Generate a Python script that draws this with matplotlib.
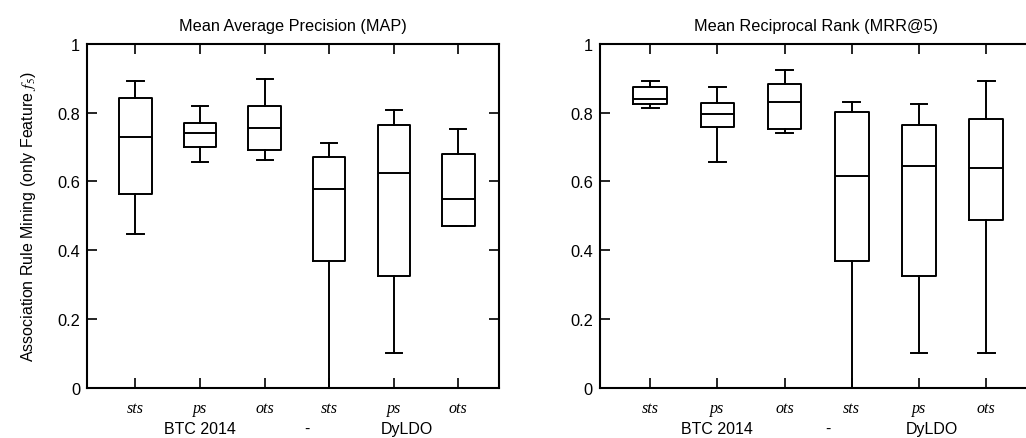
import matplotlib
matplotlib.use("Agg")
import matplotlib.pyplot as plt
import matplotlib.transforms as mtransforms

plt.rcParams['font.family'] = ['Liberation Sans', 'DejaVu Sans']
plt.rcParams['mathtext.fontset'] = 'stix'

# box statistics: whisker low, q1, median, q3, whisker high
positions = [1, 2, 3, 4, 5, 6]
tick_labels = ['sts', 'ps', 'ots', 'sts', 'ps', 'ots']

map_whislo = [0.447, 0.656, 0.661, 0.0, 0.102, 0.470]
map_q1 = [0.563, 0.700, 0.692, 0.368, 0.326, 0.470]
map_med = [0.730, 0.742, 0.754, 0.579, 0.623, 0.548]
map_q3 = [0.842, 0.771, 0.820, 0.671, 0.765, 0.680]
map_whishi = [0.893, 0.818, 0.898, 0.713, 0.807, 0.752]

mrr_whislo = [0.813, 0.656, 0.742, 0.0, 0.102, 0.102]
mrr_q1 = [0.826, 0.759, 0.752, 0.368, 0.326, 0.489]
mrr_med = [0.838, 0.795, 0.831, 0.616, 0.644, 0.638]
mrr_q3 = [0.873, 0.829, 0.884, 0.801, 0.765, 0.780]
mrr_whishi = [0.893, 0.873, 0.924, 0.831, 0.826, 0.893]

group_labels = ['BTC 2014', '-', 'DyLDO']
group_pos = [2.0, 3.65, 5.2]


def make_stats(lo, q1, med, q3, hi):
    return [dict(whislo=a, q1=b, med=c, q3=d, whishi=e, fliers=[])
            for a, b, c, d, e in zip(lo, q1, med, q3, hi)]


def draw_panel(ax, stats, title, xmax):
    lw = 1.4
    ax.bxp(stats, positions=positions, widths=0.5, capwidths=0.25,
           showfliers=False, patch_artist=False,
           boxprops=dict(color='black', linewidth=lw),
           medianprops=dict(color='black', linewidth=lw),
           whiskerprops=dict(color='black', linewidth=lw),
           capprops=dict(color='black', linewidth=lw))
    ax.set_xlim(0.25, xmax)
    ax.set_ylim(0, 1)
    ax.set_yticks([0, 0.2, 0.4, 0.6, 0.8, 1])
    ax.set_yticklabels(['0', '0.2', '0.4', '0.6', '0.8', '1'], fontsize=11.8)
    ax.set_xticks(positions)
    ax.set_xticklabels(tick_labels, family='Liberation Serif', style='italic',
                       fontsize=11.5)
    ax.tick_params(direction='in', length=7, width=1.2, top=True, right=True,
                   color='black')
    ax.tick_params(axis='x', pad=9)
    ax.tick_params(axis='y', pad=5)
    for sp in ax.spines.values():
        sp.set_linewidth(1.5)
    ax.set_title(title, fontsize=11.7, pad=10)
    trans = mtransforms.blended_transform_factory(ax.transData, ax.transAxes)
    for lab, xp in zip(group_labels, group_pos):
        ax.text(xp, -0.117, lab, transform=trans, ha='center', va='center',
                fontsize=11.5)


fig = plt.figure(figsize=(10.26, 4.39), dpi=100)
ax1 = fig.add_axes([0.0848, 0.1139, 0.4016, 0.7843])
# right panel runs past the right edge of the picture
ax2 = fig.add_axes([0.5845, 0.1139, 0.4215, 0.7843])

draw_panel(ax1, make_stats(map_whislo, map_q1, map_med, map_q3, map_whishi),
           'Mean Average Precision (MAP)', 6.63)
draw_panel(ax2, make_stats(mrr_whislo, mrr_q1, mrr_med, mrr_q3, mrr_whishi),
           'Mean Reciprocal Rank (MRR@5)', 6.685)
ax2.tick_params(right=False)
ax2.spines['right'].set_visible(False)

ax1.set_ylabel('Association Rule Mining (only Feature $f_5$)', fontsize=11.5,
               labelpad=14)

fig.savefig('out.png', dpi=100)
